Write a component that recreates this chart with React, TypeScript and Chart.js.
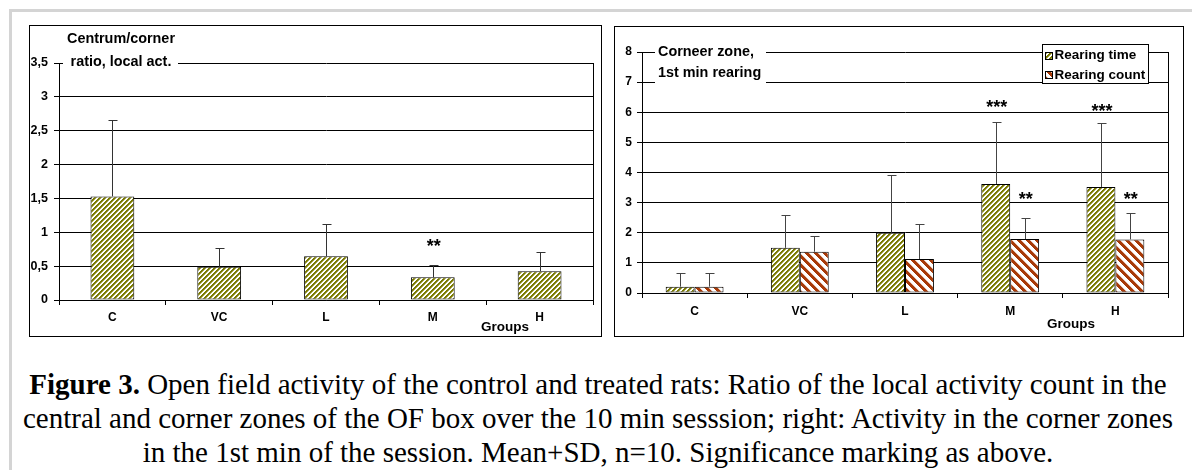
import React, { useEffect, useRef } from 'react';
import { Chart, registerables } from 'chart.js';
Chart.register(...registerables);

// ---------- data ----------
const groups = ['C', 'VC', 'L', 'M', 'H'];

const ratioMean = [1.53, 0.49, 0.645, 0.335, 0.425];
const ratioSD = [1.135, 0.285, 0.475, 0.18, 0.285];
const ratioStars = ['', '', '', '**', ''];
const ratioStarLevel = [0, 0, 0, 0.83, 0];
const ratioTickLabels = ['0', '0,5', '1', '1,5', '2', '2,5', '3', '3,5'];

const timeMean = [0.21, 1.5, 2.0, 3.62, 3.52];
const timeSD = [0.44, 1.09, 1.93, 2.07, 2.11];
const timeStars = ['', '', '', '***', '***'];
const timeStarLevel = [0, 0, 0, 6.25, 6.1];

const countMean = [0.21, 1.37, 1.13, 1.79, 1.78];
const countSD = [0.44, 0.53, 1.15, 0.69, 0.86];
const countStars = ['', '', '', '**', '**'];
const countStarLevel = [0, 0, 0, 3.2, 3.2];
const rearTickLabels = ['0', '1', '2', '3', '4', '5', '6', '7', '8'];

const leftTitle = ['Centrum/corner', 'ratio, local act.'];
const rightTitle = ['Corneer zone,', '1st min rearing'];
const seriesLabels = ['Rearing time', 'Rearing count'];
const xAxisName = 'Groups';

const FONT = 'Arial, "Liberation Sans", Helvetica, sans-serif';

// ---------- patterns ----------
function makeStripes(rgb: number[], pitch: number, width: number, up: boolean) {
  const c = document.createElement('canvas');
  c.width = pitch;
  c.height = pitch;
  const ctx = c.getContext('2d')!;
  const img = ctx.createImageData(pitch, pitch);
  for (let y = 0; y < pitch; y++) {
    for (let x = 0; x < pitch; x++) {
      const t = up ? (x + y) % pitch : (((x - y) % pitch) + pitch) % pitch;
      let a = 0;
      if (t + 1 <= width) a = 1;
      else if (t < width) a = width - t;
      const i = (y * pitch + x) * 4;
      img.data[i] = Math.round(255 * (1 - a) + rgb[0] * a);
      img.data[i + 1] = Math.round(255 * (1 - a) + rgb[1] * a);
      img.data[i + 2] = Math.round(255 * (1 - a) + rgb[2] * a);
      img.data[i + 3] = 255;
    }
  }
  ctx.putImageData(img, 0, 0);
  return ctx.createPattern(c, 'repeat')!;
}

// ---------- plugins ----------
function errorBarPlugin(sds: number[][], color: string) {
  return {
    id: 'errbars',
    afterDatasetsDraw(chart: any) {
      const ctx = chart.ctx;
      const ys = chart.scales.y;
      ctx.save();
      ctx.strokeStyle = color;
      ctx.lineWidth = 1;
      chart.data.datasets.forEach((ds: any, di: number) => {
        const meta = chart.getDatasetMeta(di);
        meta.data.forEach((el: any, i: number) => {
          const v = ds.data[i] as number;
          const top = Math.round(ys.getPixelForValue(v + sds[di][i])) + 0.5;
          const x = Math.round(el.x) + 0.5;
          ctx.beginPath();
          ctx.moveTo(x, el.y);
          ctx.lineTo(x, top);
          ctx.moveTo(x - 4, top);
          ctx.lineTo(x + 5, top);
          ctx.stroke();
        });
      });
      ctx.restore();
    },
  };
}

function starsPlugin(stars: string[][], levels: number[][], size: number) {
  return {
    id: 'stars',
    afterDatasetsDraw(chart: any) {
      const ctx = chart.ctx;
      const ys = chart.scales.y;
      ctx.save();
      ctx.fillStyle = '#000';
      ctx.font = `bold ${size}px ${FONT}`;
      ctx.textAlign = 'center';
      ctx.textBaseline = 'middle';
      stars.forEach((arr, di) => {
        const meta = chart.getDatasetMeta(di);
        arr.forEach((s, i) => {
          if (!s) return;
          ctx.fillText(s, meta.data[i].x + 1, ys.getPixelForValue(levels[di][i]) + 3);
        });
      });
      ctx.restore();
    },
  };
}

function frameTextPlugin(opts: {
  lines: string[];
  size: number;
  align: 'left' | 'center';
  box: [number, number, number, number]; // relative to chartArea left/top
  textX: number;
  textY: number[];
  groupsDx: number;
  groupsDy: number;
  groupsSize: number;
}) {
  return {
    id: 'frameText',
    afterDraw(chart: any) {
      const ctx = chart.ctx;
      const a = chart.chartArea;
      ctx.save();
      // right border of plot area
      ctx.strokeStyle = '#000';
      ctx.lineWidth = 1;
      ctx.beginPath();
      ctx.moveTo(Math.round(a.right) + 0.5, Math.round(a.top));
      ctx.lineTo(Math.round(a.right) + 0.5, Math.round(a.bottom) + 1);
      ctx.stroke();
      // title block
      const [bx, by, bw, bh] = opts.box;
      ctx.fillStyle = '#fff';
      ctx.fillRect(a.left + bx, a.top + by, bw, bh);
      ctx.fillStyle = '#000';
      ctx.font = `bold ${opts.size}px ${FONT}`;
      ctx.textAlign = opts.align;
      ctx.textBaseline = 'middle';
      opts.lines.forEach((l, i) => ctx.fillText(l, a.left + opts.textX, a.top + opts.textY[i]));
      // axis name
      ctx.font = `bold ${opts.groupsSize}px ${FONT}`;
      ctx.textAlign = 'center';
      ctx.fillText(xAxisName, a.left + opts.groupsDx, a.bottom + opts.groupsDy);
      ctx.restore();
    },
  };
}

function legendPlugin() {
  return {
    id: 'customLegend',
    afterDraw(chart: any) {
      const ctx = chart.ctx;
      const a = chart.chartArea;
      const w = 106;
      const h = 39;
      const x0 = Math.round(a.right - 20 - w) + 0.5;
      const y0 = Math.round(a.top - 8) + 0.5;
      ctx.save();
      ctx.fillStyle = '#fff';
      ctx.fillRect(x0, y0, w, h);
      ctx.strokeStyle = '#000';
      ctx.lineWidth = 1;
      ctx.strokeRect(x0, y0, w, h);
      ctx.font = `bold 13.5px ${FONT}`;
      ctx.textAlign = 'left';
      ctx.textBaseline = 'middle';
      chart.data.datasets.forEach((ds: any, i: number) => {
        const cy = y0 + 11 + i * 19.5;
        ctx.fillStyle = ds.backgroundColor;
        ctx.fillRect(x0 + 3, Math.round(cy - 4), 7, 7);
        ctx.strokeStyle = '#000';
        ctx.strokeRect(x0 + 3, Math.round(cy - 4) + 0.5, 7, 7);
        ctx.fillStyle = '#000';
        ctx.fillText(ds.label, x0 + 12, cy);
      });
      ctx.restore();
    },
  };
}

function axisCommon(xSize: number, ySize: number, xPad: number, xHeight: number, yWidth: number, yPad: number, labels: string[], max: number, step: number) {
  return {
    x: {
      grid: { display: true, drawOnChartArea: false, drawTicks: true, tickLength: 5, color: '#000', offset: true },
      border: { display: true, color: '#000', width: 1 },
      ticks: { color: '#000', font: { family: FONT, weight: 'bold', size: xSize }, padding: xPad, maxRotation: 0 },
      afterFit: (s: any) => {
        s.height = xHeight;
      },
    },
    y: {
      min: 0,
      max,
      grid: { color: '#000', tickLength: 5, lineWidth: 1 },
      border: { display: true, color: '#000', width: 1 },
      ticks: {
        stepSize: step,
        color: '#000',
        padding: yPad,
        font: { family: FONT, weight: 'bold', size: ySize },
        callback: (_v: any, i: number) => labels[i],
      },
      afterFit: (s: any) => {
        s.width = yWidth;
      },
    },
  };
}

function LeftChart() {
  const ref = useRef<HTMLCanvasElement>(null);
  useEffect(() => {
    const olive = makeStripes([122, 122, 0], 5, 2.7, true);
    const chart = new Chart(ref.current!, {
      type: 'bar',
      data: {
        labels: groups,
        datasets: [
          {
            label: 'Ratio',
            data: ratioMean,
            backgroundColor: olive as any,
            borderColor: '#000',
            borderWidth: 1,
            borderSkipped: false,
            barPercentage: 0.41,
            categoryPercentage: 1,
          },
        ],
      },
      options: {
        responsive: false,
        animation: false,
        layout: { padding: { top: 37, right: 8, left: 0, bottom: 0 } },
        plugins: { legend: { display: false }, tooltip: { enabled: false } },
        scales: axisCommon(12, 12.5, 5, 36, 29, 6, ratioTickLabels, 3.5, 0.5) as any,
      },
      plugins: [
        errorBarPlugin([ratioSD], '#333'),
        starsPlugin([ratioStars], [ratioStarLevel], 18),
        frameTextPlugin({
          lines: leftTitle,
          size: 14.4,
          align: 'center',
          box: [4, -34, 115, 41],
          textX: 62,
          textY: [-24, -1],
          groupsDx: 446,
          groupsDy: 27,
          groupsSize: 13.5,
        }),
      ] as any,
    });
    return () => chart.destroy();
  }, []);
  return <canvas ref={ref} width={571} height={310} style={{ width: 571, height: 310, display: 'block' }} />;
}

function RightChart() {
  const ref = useRef<HTMLCanvasElement>(null);
  useEffect(() => {
    const olive = makeStripes([122, 122, 0], 5, 2.7, true);
    const brown = makeStripes([168, 58, 8], 9, 4.3, false);
    const chart = new Chart(ref.current!, {
      type: 'bar',
      data: {
        labels: groups,
        datasets: [
          {
            label: seriesLabels[0],
            data: timeMean,
            backgroundColor: olive as any,
            borderColor: '#000',
            borderWidth: 1,
            borderSkipped: false,
            barPercentage: 1,
            categoryPercentage: 0.55,
          },
          {
            label: seriesLabels[1],
            data: countMean,
            backgroundColor: brown as any,
            borderColor: '#000',
            borderWidth: 1,
            borderSkipped: false,
            barPercentage: 1,
            categoryPercentage: 0.55,
          },
        ],
      },
      options: {
        responsive: false,
        animation: false,
        layout: { padding: { top: 25, right: 15, left: 0, bottom: 0 } },
        plugins: { legend: { display: false }, tooltip: { enabled: false } },
        scales: axisCommon(12, 12, 6, 43, 27, 5, rearTickLabels, 8, 1) as any,
      },
      plugins: [
        errorBarPlugin([timeSD, countSD], '#444'),
        starsPlugin([timeStars, countStars], [timeStarLevel, countStarLevel], 18),
        frameTextPlugin({
          lines: rightTitle,
          size: 14.4,
          align: 'left',
          box: [13, -12, 111, 48],
          textX: 16,
          textY: [0, 21],
          groupsDx: 429,
          groupsDy: 31,
          groupsSize: 13.5,
        }),
        legendPlugin(),
      ] as any,
    });
    return () => chart.destroy();
  }, []);
  return <canvas ref={ref} width={568} height={309} style={{ width: 568, height: 309, display: 'block' }} />;
}

export default function App() {
  return (
    <div style={{ position: 'absolute', left: 0, top: 0, width: 1192, height: 470, background: '#fff', overflow: 'hidden' }}>
      <div
        style={{
          position: 'absolute',
          left: 9,
          top: 9,
          width: 1200,
          height: 470,
          borderTop: '3px solid #d4d4d4',
          borderLeft: '3px solid #d4d4d4',
        }}
      />
      <div
        style={{
          position: 'absolute',
          left: 29,
          top: 25,
          width: 573,
          height: 312,
          border: '1px solid #000',
          boxSizing: 'border-box',
        }}
      >
        <LeftChart />
      </div>
      <div
        style={{
          position: 'absolute',
          left: 614,
          top: 26,
          width: 570,
          height: 311,
          border: '1px solid #000',
          boxSizing: 'border-box',
        }}
      >
        <RightChart />
      </div>
      <div
        style={{
          position: 'absolute',
          left: 0,
          top: 367,
          width: 1196,
          textAlign: 'center',
          fontFamily: '"Liberation Serif", "Times New Roman", serif',
          fontSize: 29,
          lineHeight: '34px',
          color: '#000',
          whiteSpace: 'nowrap',
        }}
      >
        <b>Figure 3.</b> Open field activity of the control and treated rats: Ratio of the local activity count in the
        <br />
        central and corner zones of the OF box over the 10 min sesssion; right: Activity in the corner zones
        <br />
        in the 1st min of the session. Mean+SD, n=10. Significance marking as above.
      </div>
    </div>
  );
}
